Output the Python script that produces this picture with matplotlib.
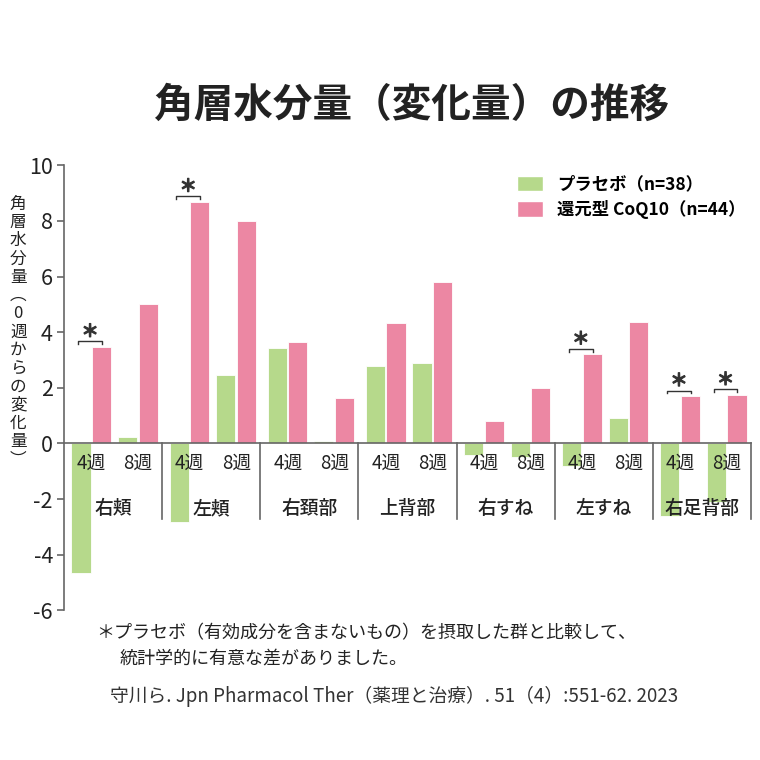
import numpy as np
import matplotlib
matplotlib.use("Agg")
import matplotlib.pyplot as plt
import matplotlib.patheffects as pe
from matplotlib.patches import Patch

plt.rcParams['font.family'] = ['Noto Sans CJK JP', 'DejaVu Sans']

# Data
groups = ['右頬', '左頬', '右頚部', '上背部', '右すね', '左すね', '右足背部']
weeks = ['4週', '8週']
placebo_4w = [-4.66, -2.82, 3.42, 2.78, -0.42, -0.80, -2.60]
coq_4w = [3.47, 8.69, 3.63, 4.34, 0.81, 3.20, 1.70]
placebo_8w = [0.24, 2.46, 0.10, 2.88, -0.50, 0.90, -2.10]
coq_8w = [5.01, 8.00, 1.62, 5.81, 2.01, 4.37, 1.74]
# (group index, week index) pairs marked significant
significant = [(0, 0), (1, 0), (5, 0), (6, 0), (6, 1)]

green = '#b6d98b'
pink = '#ec87a3'
grey = '#666666'

fig = plt.figure(figsize=(7.6, 7.6), dpi=100)
ax = fig.add_axes([0.0842, 0.197, 0.904, 0.5855])

x = np.arange(len(groups))
w = 0.195
pos_p = [0.173, 0.648]
pos_c = [0.383, 0.857]

ax.bar(x + pos_p[0], placebo_4w, w, color=green, edgecolor='white', linewidth=0.6)
ax.bar(x + pos_c[0], coq_4w, w, color=pink, edgecolor='white', linewidth=0.6)
ax.bar(x + pos_p[1], placebo_8w, w, color=green, edgecolor='white', linewidth=0.6)
ax.bar(x + pos_c[1], coq_8w, w, color=pink, edgecolor='white', linewidth=0.6)

coq = [coq_4w, coq_8w]
for g, k in significant:
    x0 = g + pos_p[k] - 0.03
    x1 = g + pos_c[k] + 0.005
    y = coq[k][g] + 0.2
    ax.plot([x0, x0, x1, x1], [y - 0.1, y, y, y - 0.1], color='#333333', lw=1.0)
    ax.text((x0 + x1) / 2, y + 0.02, '＊', ha='center', va='bottom', fontsize=12.5,
            fontweight='bold', color='#333333',
            path_effects=[pe.withStroke(linewidth=0.8, foreground='#333333')])

ax.set_xlim(0, 7)
ax.set_ylim(-6, 10)
ax.set_yticks(range(-6, 11, 2))
ax.set_yticklabels([str(v) for v in range(-6, 11, 2)], fontsize=15.5, color='#222222')
ax.set_xticks([])
for s in ['top', 'right', 'bottom']:
    ax.spines[s].set_visible(False)
ax.spines['left'].set_color(grey)
ax.spines['left'].set_linewidth(1.2)
ax.tick_params(axis='y', length=5, width=1.2, color=grey, pad=3)

# zero line and group separators
ax.plot([0, 7], [0, 0], color=grey, lw=1.2, clip_on=False)
for i in range(1, 8):
    ax.plot([i, i], [0, -2.7], color=grey, lw=1.2, clip_on=False)

for i, name in enumerate(groups):
    ax.text(i + 0.28, -0.72, weeks[0], ha='center', va='center', fontsize=13.5, color='#222222')
    ax.text(i + 0.755, -0.72, weeks[1], ha='center', va='center', fontsize=13.5, color='#222222')
    ax.text(i + 0.5, -2.35, name, ha='center', va='center', fontsize=13.5,
            fontweight='medium', color='#222222')

# vertical y-axis label
ylabel = '角層水分量︵0週からの変化量︶'
fig.text(0.024, 0.563, '\n'.join(ylabel), ha='center', va='center', fontsize=12,
         linespacing=1.1, color='#222222')

fig.text(0.541, 0.862, '角層水分量（変化量）の推移', ha='center', va='center',
         fontsize=28.5, fontweight='bold', color='#222222')

handles = [Patch(facecolor=green, edgecolor='white'), Patch(facecolor=pink, edgecolor='white')]
fig.legend(handles, ['プラセボ（n=38）', '還元型 CoQ10（n=44）'], loc='upper left',
           bbox_to_anchor=(0.66, 0.79), frameon=False, handlelength=1.5, handleheight=1.0,
           handletextpad=0.8, labelspacing=0.4, prop={'size': 12.5, 'weight': 'bold'})

fig.text(0.127, 0.167, '＊プラセボ（有効成分を含まないもの）を摂取した群と比較して、',
         ha='left', va='center', fontsize=13, color='#222222')
fig.text(0.157, 0.133, '統計学的に有意な差がありました。', ha='left', va='center',
         fontsize=13, color='#222222')
fig.text(0.518, 0.083, '守川ら. Jpn Pharmacol Ther（薬理と治療）. 51（4）:551-62. 2023',
         ha='center', va='center', fontsize=13.5, color='#333333')

fig.savefig('out.png', dpi=100, facecolor='white')
